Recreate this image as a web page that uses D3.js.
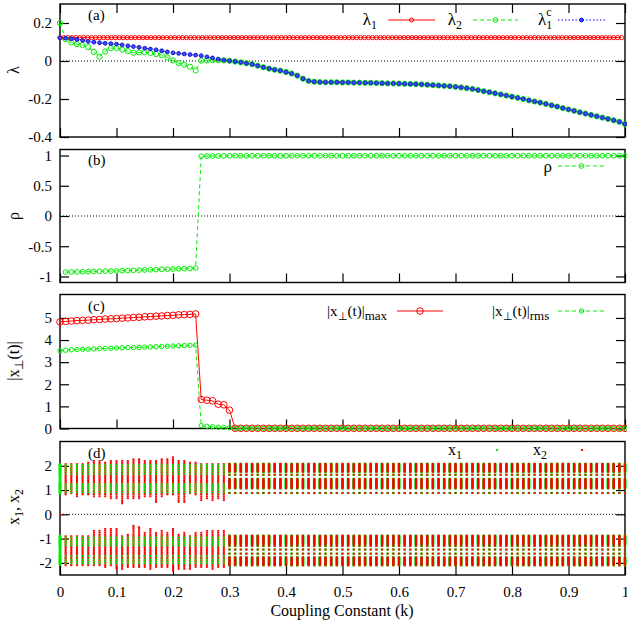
<!DOCTYPE html>
<html><head><meta charset="utf-8">
<script src="https://cdn.jsdelivr.net/npm/d3@7"></script>
<style>
body{margin:0;background:#fff}
text{font-family:"Liberation Serif","Times New Roman",serif;fill:#000}
</style>
</head><body>
<svg id="chart" width="627" height="625"></svg>
<script>
// ---------------- DATA ----------------
const kValues = d3.range(101).map(i => i / 100);          // coupling constant grid, step 0.01
const kLambda1 = d3.range(143).map(i => i * 0.007);        // denser grid used for lambda1 markers
const lambda1Value = 0.123;                                // lambda1 is flat over k

const lambda1c = [
  0.122,0.120,0.117,0.113,0.108,0.103,0.099,0.096,0.093,0.091,
  0.089,0.085,0.080,0.076,0.072,0.067,0.063,0.059,0.054,0.048,
  0.043,0.040,0.037,0.034,0.031,0.028,0.022,0.016,0.010,0.005,
  0.001,-0.003,-0.007,-0.012,-0.017,-0.025,-0.033,-0.040,-0.046,-0.051,
  -0.058,-0.066,-0.077,-0.093,-0.105,-0.109,-0.111,-0.112,-0.112,-0.112,
  -0.113,-0.113,-0.114,-0.114,-0.115,-0.115,-0.116,-0.117,-0.118,-0.118,
  -0.119,-0.120,-0.121,-0.122,-0.123,-0.125,-0.127,-0.129,-0.131,-0.133,
  -0.136,-0.139,-0.143,-0.147,-0.153,-0.159,-0.164,-0.170,-0.176,-0.182,
  -0.188,-0.194,-0.200,-0.207,-0.213,-0.219,-0.226,-0.233,-0.240,-0.248,
  -0.255,-0.262,-0.270,-0.277,-0.284,-0.291,-0.298,-0.305,-0.312,-0.320,
  -0.332];
// lambda2 for k = 0 .. 0.30; beyond that it coincides with lambda1c
const lambda2Head = [
  0.200,0.115,0.098,0.089,0.084,0.073,0.048,0.023,0.050,0.068,
  0.068,0.060,0.052,0.043,0.045,0.046,0.042,0.037,0.032,0.019,
  0.003,-0.011,-0.020,-0.030,-0.050,0.002,0.003,0.004,0.004,0.003,
  0.001];
const lambda2 = lambda2Head.concat(lambda1c.slice(31));

// rho for k = 0.01 .. 1.00 (100 values)
const kRho = kValues.slice(1);
const rho = [
  -0.928,-0.926,-0.924,-0.922,-0.920,-0.917,-0.915,-0.912,-0.910,-0.907,
  -0.904,-0.901,-0.898,-0.895,-0.892,-0.889,-0.886,-0.883,-0.880,-0.877,
  -0.874,-0.871,-0.868,-0.862,
  0.988,0.990,0.992,0.994,0.995,0.996,
  0.996,0.996,0.996,0.996,0.996,0.996,0.996,0.996,0.996,0.996,
  0.996,0.997,0.997,0.997,0.997,0.997,0.997,0.997,0.997,0.997,
  0.997,0.997,0.997,0.997,0.997,0.997,0.997,0.997,0.997,0.997,
  0.997,0.997,0.997,0.997,0.997,0.997,0.997,0.997,0.997,0.997,
  0.997,0.997,0.997,0.997,0.997,0.997,0.997,0.997,0.997,0.997,
  0.997,0.997,0.997,0.997,0.997,0.997,0.997,0.997,0.997,0.997,
  0.997,0.997,0.997,0.997,0.997,0.997,0.997,0.997,0.997,0.997];

// |x_perp(t)| max and rms, k = 0 .. 1.00
const xPerpMax = [
  4.82,4.84,4.86,4.88,4.89,4.90,4.92,4.93,4.95,4.96,
  4.97,4.99,5.00,5.02,5.03,5.05,5.06,5.08,5.09,5.11,
  5.12,5.14,5.15,5.16,5.18,1.31,1.28,1.25,1.10,1.07,
  0.83,0.01,0.01,0.01,0.01,0.01,0.01,0.01,0.01,0.01,
  0.01,0.01,0.01,0.01,0.01,0.01,0.01,0.01,0.01,0.01,
  0.01,0.01,0.01,0.01,0.01,0.01,0.01,0.01,0.01,0.01,
  0.01,0.01,0.01,0.01,0.01,0.01,0.01,0.01,0.01,0.01,
  0.01,0.01,0.01,0.01,0.01,0.01,0.01,0.01,0.01,0.01,
  0.01,0.01,0.01,0.01,0.01,0.01,0.01,0.01,0.01,0.01,
  0.01,0.01,0.01,0.01,0.01,0.01,0.01,0.01,0.01,0.01,
  0.01];
const xPerpRms = [
  3.52,3.54,3.56,3.57,3.58,3.59,3.60,3.61,3.62,3.63,
  3.64,3.65,3.66,3.66,3.67,3.68,3.69,3.70,3.71,3.72,
  3.73,3.74,3.75,3.76,3.77,0.13,0.10,0.08,0.06,0.05,
  0.03,0.01,0.01,0.01,0.01,0.01,0.01,0.01,0.01,0.01,
  0.01,0.01,0.01,0.01,0.01,0.01,0.01,0.01,0.01,0.01,
  0.01,0.01,0.01,0.01,0.01,0.01,0.01,0.01,0.01,0.01,
  0.01,0.01,0.01,0.01,0.01,0.01,0.01,0.01,0.01,0.01,
  0.01,0.01,0.01,0.01,0.01,0.01,0.01,0.01,0.01,0.01,
  0.01,0.01,0.01,0.01,0.01,0.01,0.01,0.01,0.01,0.01,
  0.01,0.01,0.01,0.01,0.01,0.01,0.01,0.01,0.01,0.01,
  0.01];

// panel (d): visited values of x1, x2
// desynchronised region k = 0 .. 0.29 : extents of x2 per column [upMax, upMin, loMax, loMin]
const x2Extents = [
  [2.05,0.85,-0.88,-2.05],[2.10,0.80,-0.85,-2.10],[2.12,0.85,-0.85,-2.15],[2.10,0.72,-0.90,-2.15],
  [2.12,0.75,-0.85,-2.15],[2.15,0.80,-0.90,-2.10],[2.20,0.68,-0.62,-2.15],[2.20,0.68,-0.65,-2.15],
  [2.18,0.72,-0.60,-2.20],[2.20,0.60,-0.58,-2.15],[2.22,0.65,-0.60,-2.25],[2.20,0.45,-0.85,-2.25],
  [2.22,0.60,-0.80,-2.20],[2.28,0.62,-0.47,-2.20],[2.28,0.60,-0.50,-2.20],[2.25,0.70,-0.70,-2.20],
  [2.25,0.72,-0.60,-2.25],[2.25,0.50,-0.70,-2.20],[2.30,0.70,-0.65,-2.20],[2.28,0.75,-0.75,-2.20],
  [2.35,0.78,-0.58,-2.33],[2.25,0.50,-0.80,-2.30],[2.20,0.50,-0.75,-2.25],[2.15,0.85,-0.85,-2.30],
  [2.18,0.80,-0.70,-2.20],[2.12,0.58,-0.75,-2.20],[2.12,0.60,-0.68,-2.20],[2.12,0.58,-0.68,-2.25],
  [2.12,0.60,-0.65,-2.20],[2.12,0.58,-0.62,-2.20]];
const chaosLevels = [
  0.45,0.51,0.58,0.66,0.74,0.82,0.87,0.93,0.99,1.05,1.11,1.17,1.23,1.29,1.35,1.41,
  1.47,1.53,1.59,1.65,1.71,1.77,1.83,1.89,1.95,2.01,2.07,2.13,2.20,2.27,2.35,
  -0.47,-0.53,-0.60,-0.68,-0.76,-0.84,-0.90,-0.96,-1.02,-1.08,-1.14,-1.20,-1.26,
  -1.32,-1.38,-1.44,-1.50,-1.56,-1.62,-1.68,-1.74,-1.80,-1.86,-1.92,-1.98,-2.04,
  -2.10,-2.17,-2.25,-2.33];
const x1ChaosLevels = [
  0.90,1.00,1.08,1.16,1.24,1.66,1.76,1.86,1.96,2.04,
  -0.95,-1.05,-1.13,-1.21,-1.29,-1.72,-1.86,-1.94,-2.02];
// synchronised region k = 0.30 .. 1.00 : x1 = x2 visit these values
const syncLevels = [
  2.08,2.05,2.02,1.99,1.96,1.93,1.90,1.87,1.84,1.81,1.78,1.75,1.63,
  1.46,1.43,1.40,1.37,1.34,1.31,1.28,1.25,1.22,1.19,1.16,1.13,1.10,1.07,0.88,
  -0.88,-0.91,-0.94,-0.97,-1.00,-1.03,-1.06,-1.09,-1.12,-1.15,-1.18,-1.21,-1.24,-1.30,
  -1.45,-1.62,-1.77,-1.80,-1.83,-1.86,-1.89,-1.92,-1.95,-1.98,-2.01,-2.04,-2.07,-2.10];

const xTicks = [0,0.1,0.2,0.3,0.4,0.5,0.6,0.7,0.8,0.9,1];
const xTickLabels = ["0","0.1","0.2","0.3","0.4","0.5","0.6","0.7","0.8","0.9","1"];
const ticksA = [-0.4,-0.2,0,0.2];
const ticksB = [-1,-0.5,0,0.5,1];
const ticksC = [0,1,2,3,4,5];
const ticksD = [-2,-1,0,1,2];

// ---------------- DRAWING ----------------
const SERIF = '"Liberation Serif","Times New Roman",serif';
const RED = "#ff0000", GREEN = "#00ee00", BLUE = "#0000ff";
const svg = d3.select("#chart");
const L = 60, R = 625;
const x = d3.scaleLinear().domain([0, 1]).range([L, R]);

const panels = {
  a: {top: 4,     bottom: 137,   domain: [-0.4, 0.3],  ticks: ticksA, topTicks: true},
  b: {top: 149.5, bottom: 282.5, domain: [-1.1, 1.1],  ticks: ticksB},
  c: {top: 294.5, bottom: 428.5, domain: [0, 6.06],    ticks: ticksC},
  d: {top: 441.5, bottom: 575,   domain: [-2.5, 3.0],  ticks: ticksD, xlabels: true}
};
for (const key in panels) {
  const p = panels[key];
  p.y = d3.scaleLinear().domain(p.domain).range([p.bottom, p.top]);
  p.g = svg.append("g");
  p.data = svg.append("g");
}

function drawFrame(p, zeroLine) {
  const g = p.g;
  if (zeroLine) {
    g.append("line").attr("x1", L).attr("x2", R).attr("y1", p.y(0)).attr("y2", p.y(0))
      .attr("stroke", "#000").attr("stroke-width", 1).attr("stroke-dasharray", "1,2");
  }
  const left = g.append("g").attr("transform", `translate(${L},0)`)
    .call(d3.axisLeft(p.y).tickValues(p.ticks).tickSize(-9).tickPadding(8).tickFormat(d => String(d)));
  const right = g.append("g").attr("transform", `translate(${R},0)`)
    .call(d3.axisRight(p.y).tickValues(p.ticks).tickSize(-9).tickFormat(""));
  const bottom = g.append("g").attr("transform", `translate(0,${p.bottom})`)
    .call(d3.axisBottom(x).tickValues(xTicks).tickSize(-9).tickPadding(11)
      .tickFormat((d, i) => p.xlabels ? xTickLabels[i] : ""));
  const axes = [left, right, bottom];
  if (p.topTicks) {
    axes.push(g.append("g").attr("transform", `translate(0,${p.top})`)
      .call(d3.axisTop(x).tickValues(xTicks).tickSize(-9).tickFormat("")));
  }
  axes.forEach(a => {
    a.attr("font-family", SERIF).attr("font-size", 15);
    a.select(".domain").remove();
    a.selectAll("line").attr("stroke", "#000").attr("stroke-width", 1.2);
    a.selectAll("text").attr("font-family", SERIF).style("font-family", SERIF)
      .style("font-size", "15px").attr("fill", "#000");
  });
  g.append("rect").attr("x", L).attr("y", p.top).attr("width", R - L).attr("height", p.bottom - p.top)
    .attr("fill", "none").attr("stroke", "#000").attr("stroke-width", 1.4);
}

function line(p, xs, ys, color, dash) {
  const pts = xs.map((k, i) => [k, ys[i]]);
  p.data.append("path").datum(pts)
    .attr("d", d3.line().x(d => x(d[0])).y(d => p.y(d[1])))
    .attr("fill", "none").attr("stroke", color).attr("stroke-width", 1)
    .attr("stroke-dasharray", dash || null);
}
function markers(p, xs, ys, color, r, filled) {
  p.data.append("g").selectAll("circle").data(xs.map((k, i) => [k, ys[i]])).join("circle")
    .attr("cx", d => x(d[0])).attr("cy", d => p.y(d[1])).attr("r", r)
    .attr("fill", filled ? filled : "none").attr("stroke", color).attr("stroke-width", 1);
}

// Panel (a)
const A = panels.a;
drawFrame(A, true);
const lambda1 = kLambda1.map(() => lambda1Value);
line(A, kLambda1, lambda1, RED);
markers(A, kLambda1, lambda1, RED, 2.1);
line(A, kValues, lambda2, GREEN, "4,3");
markers(A, kValues, lambda2, GREEN, 2.6);
line(A, kValues, lambda1c, BLUE, "1.5,2");
markers(A, kValues, lambda1c, "#1818c8", 1.9, "#3a4cff");

// Panel (b)
const B = panels.b;
drawFrame(B, true);
line(B, kRho, rho, GREEN, "4,3");
markers(B, kRho, rho, GREEN, 2.4);

// Panel (c)
const C = panels.c;
drawFrame(C, false);
line(C, kValues, xPerpMax, RED);
markers(C, kValues, xPerpMax, RED, 3.3);
line(C, kValues, xPerpRms, GREEN, "4,3");
markers(C, kValues, xPerpRms, GREEN, 2.2);

// Panel (d)
const D = panels.d;
drawFrame(D, true);
const greenUnder = [], greenOver = [], redPts = [];
kValues.forEach((k, i) => {
  if (k < 0.295) {
    x1ChaosLevels.forEach(v => (i === 0 ? greenUnder : greenOver).push([k, v]));
    if (i === 0) { redPts.push([k, 0]); return; }
    const e = x2Extents[i];
    chaosLevels.forEach(v => {
      if ((v > 0 && v <= e[0] && v >= e[1]) || (v < 0 && v <= e[2] && v >= e[3])) redPts.push([k, v]);
    });
  } else {
    syncLevels.forEach(v => { greenUnder.push([k, v]); redPts.push([k, v]); });
  }
});
// x1 at k=0 drawn as a full column
const x1FirstColumn = [0.86,0.92,0.98,1.04,1.10,1.16,1.22,1.28,1.34,1.40,1.46,1.52,1.58,1.64,1.70,1.76,1.82,1.88,1.94,2.00,2.05,
  -0.88,-0.94,-1.00,-1.06,-1.12,-1.18,-1.24,-1.30,-1.36,-1.42,-1.48,-1.54,-1.60,-1.66,-1.72,-1.78,-1.84,-1.90,-1.96,-2.02,-2.06];
x1FirstColumn.forEach(v => greenUnder.push([0, v]));

D.data.append("g").selectAll("rect").data(greenUnder).join("rect")
  .attr("x", d => x(d[0]) - 1.3).attr("y", d => D.y(d[1]) - 1.1).attr("width", 2.6).attr("height", 2.2)
  .attr("fill", GREEN);
D.data.append("g").selectAll("rect").data(redPts).join("rect")
  .attr("x", d => x(d[0]) - 1.0).attr("y", d => D.y(d[1]) - 0.9).attr("width", 2.0).attr("height", 1.8)
  .attr("fill", RED);
D.data.append("g").selectAll("rect").data(greenOver).join("rect")
  .attr("x", d => x(d[0]) - 1.0).attr("y", d => D.y(d[1]) - 0.8).attr("width", 2.0).attr("height", 1.6)
  .attr("fill", GREEN);

// ---------------- LABELS & LEGENDS ----------------
function txt(xp, yp, anchor, size) {
  return svg.append("text").attr("x", xp).attr("y", yp).attr("text-anchor", anchor || "start")
    .style("font-family", SERIF).style("font-size", (size || 15) + "px");
}
// panel tags
txt(88, 20, "start", 15).text("(a)");
txt(88, 165, "start", 15).text("(b)");
txt(88, 311, "start", 15).text("(c)");
txt(88, 458, "start", 15).text("(d)");

// y labels (rotated)
function ylab(yc, builder) {
  const t = svg.append("text").attr("transform", `translate(19,${yc}) rotate(-90)`)
    .attr("text-anchor", "middle").style("font-family", SERIF).style("font-size", "16px");
  builder(t);
}
ylab(70, t => t.text("λ"));
ylab(216, t => t.text("ρ"));
ylab(361, t => { t.append("tspan").text("|x");
  t.append("tspan").attr("dy", 4).style("font-size", "12px").text("⊥");
  t.append("tspan").attr("dy", -4).text("(t)|"); });
ylab(507, t => { t.append("tspan").text("x");
  t.append("tspan").attr("dy", 4).style("font-size", "12px").text("1");
  t.append("tspan").attr("dy", -4).text(", x");
  t.append("tspan").attr("dy", 4).style("font-size", "12px").text("2"); });

// x label
txt(342, 616, "middle", 16).text("Coupling Constant (k)");

// legend sample helper
function sample(x1, x2, yy, color, dash, r, fill) {
  svg.append("line").attr("x1", x1).attr("x2", x2).attr("y1", yy).attr("y2", yy)
    .attr("stroke", color).attr("stroke-width", 1).attr("stroke-dasharray", dash || null);
  svg.append("circle").attr("cx", (x1 + x2) / 2).attr("cy", yy).attr("r", r)
    .attr("fill", fill || "none").attr("stroke", color).attr("stroke-width", 1);
}
// (a)
{
  const t1 = txt(377, 25, "end", 17); t1.append("tspan").text("λ");
  t1.append("tspan").attr("dy", 4).style("font-size", "12px").text("1");
  sample(388, 435, 20, RED, null, 2.1);
  const t2 = txt(462, 25, "end", 17); t2.append("tspan").text("λ");
  t2.append("tspan").attr("dy", 4).style("font-size", "12px").text("2");
  sample(473, 518, 20, GREEN, "4,3", 2.4);
  const t3 = txt(538, 25, "start", 17); t3.append("tspan").text("λ");
  t3.append("tspan").attr("dy", 4).style("font-size", "12px").text("1");
  t3.append("tspan").attr("dx", -6).attr("dy", -13).style("font-size", "12px").text("c");
  sample(558, 605, 20, BLUE, "1.5,2", 1.9, "#3a4cff");
}
// (b)
txt(552, 172, "end", 17).text("ρ");
sample(558, 605, 166, GREEN, "4,3", 2.4);
// (c)
{
  const t = txt(327, 316, "start", 15); t.append("tspan").text("|x");
  t.append("tspan").attr("dy", 4).style("font-size", "11px").text("⊥");
  t.append("tspan").attr("dy", -4).text("(t)|");
  t.append("tspan").attr("dy", 4).style("font-size", "13px").text("max");
  sample(397, 443, 311, RED, null, 3.3);
  const u = txt(492, 316, "start", 15); u.append("tspan").text("|x");
  u.append("tspan").attr("dy", 4).style("font-size", "11px").text("⊥");
  u.append("tspan").attr("dy", -4).text("(t)|");
  u.append("tspan").attr("dy", 4).style("font-size", "13px").text("rms");
  sample(558, 605, 311, GREEN, "4,3", 2.2);
}
// (d)
{
  const t = txt(462, 455, "end", 16); t.append("tspan").text("x");
  t.append("tspan").attr("dy", 4).style("font-size", "12px").text("1");
  svg.append("rect").attr("x", 496).attr("y", 449).attr("width", 2).attr("height", 2).attr("fill", GREEN);
  const u = txt(547, 455, "end", 16); u.append("tspan").text("x");
  u.append("tspan").attr("dy", 4).style("font-size", "12px").text("2");
  svg.append("rect").attr("x", 581).attr("y", 449).attr("width", 2).attr("height", 2).attr("fill", RED);
}
</script>
</body></html>
